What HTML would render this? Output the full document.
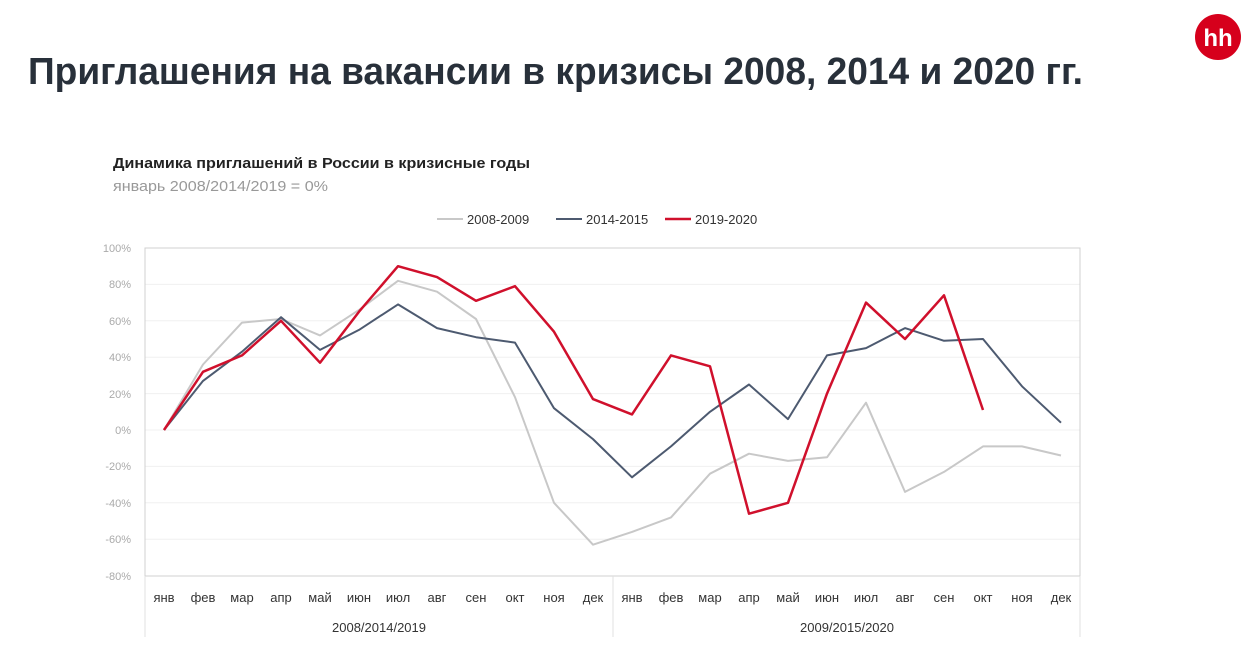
<!DOCTYPE html><html><head><meta charset="utf-8"><style>body{margin:0;background:#fff;}svg{display:block}</style></head><body>
<svg width="1245" height="663" xmlns="http://www.w3.org/2000/svg" font-family="Liberation Sans, sans-serif">
<text x="28" y="84" font-size="38" font-weight="bold" fill="#28303a" textLength="1055" lengthAdjust="spacingAndGlyphs">Приглашения на вакансии в кризисы 2008, 2014 и 2020 гг.</text>
<circle cx="1218" cy="37" r="23" fill="#d6001c"/>
<text x="1218" y="46" font-size="24" font-weight="bold" fill="#fff" text-anchor="middle">hh</text>
<text x="113" y="168" font-size="15" font-weight="bold" fill="#222" textLength="417" lengthAdjust="spacingAndGlyphs">Динамика приглашений в России в кризисные годы</text>
<text x="113" y="191" font-size="15" fill="#999" textLength="215" lengthAdjust="spacingAndGlyphs">январь 2008/2014/2019 = 0%</text>
<g font-size="13" fill="#333">
<line x1="437" y1="219" x2="463" y2="219" stroke="#c8c8c8" stroke-width="2"/><text x="467" y="224">2008-2009</text>
<line x1="556" y1="219" x2="582" y2="219" stroke="#4d5a70" stroke-width="2"/><text x="586" y="224">2014-2015</text>
<line x1="665" y1="219" x2="691" y2="219" stroke="#d0102c" stroke-width="2.5"/><text x="695" y="224">2019-2020</text>
</g>
<g stroke="#f0f0f0" stroke-width="1">
<line x1="145" y1="284.4" x2="1080" y2="284.4"/><line x1="145" y1="320.8" x2="1080" y2="320.8"/><line x1="145" y1="357.2" x2="1080" y2="357.2"/><line x1="145" y1="393.6" x2="1080" y2="393.6"/><line x1="145" y1="430" x2="1080" y2="430"/><line x1="145" y1="466.4" x2="1080" y2="466.4"/><line x1="145" y1="502.8" x2="1080" y2="502.8"/><line x1="145" y1="539.2" x2="1080" y2="539.2"/>
</g>
<rect x="145" y="248" width="935" height="328" fill="none" stroke="#d0d0d0"/>
<g stroke="#e0e0e0"><line x1="145" y1="576" x2="145" y2="637"/><line x1="613" y1="576" x2="613" y2="637"/><line x1="1080" y1="576" x2="1080" y2="637"/></g>
<g font-size="11" fill="#aaa" text-anchor="end">
<text x="131" y="252">100%</text><text x="131" y="288">80%</text><text x="131" y="325">60%</text><text x="131" y="361">40%</text><text x="131" y="398">20%</text><text x="131" y="434">0%</text><text x="131" y="470">-20%</text><text x="131" y="507">-40%</text><text x="131" y="543">-60%</text><text x="131" y="580">-80%</text>
</g>
<g font-size="13" fill="#333" text-anchor="middle">
<text x="164" y="602">янв</text><text x="203" y="602">фев</text><text x="242" y="602">мар</text><text x="281" y="602">апр</text><text x="320" y="602">май</text><text x="359" y="602">июн</text><text x="398" y="602">июл</text><text x="437" y="602">авг</text><text x="476" y="602">сен</text><text x="515" y="602">окт</text><text x="554" y="602">ноя</text><text x="593" y="602">дек</text>
<text x="632" y="602">янв</text><text x="671" y="602">фев</text><text x="710" y="602">мар</text><text x="749" y="602">апр</text><text x="788" y="602">май</text><text x="827" y="602">июн</text><text x="866" y="602">июл</text><text x="905" y="602">авг</text><text x="944" y="602">сен</text><text x="983" y="602">окт</text><text x="1022" y="602">ноя</text><text x="1061" y="602">дек</text>
<text x="379" y="632">2008/2014/2019</text><text x="847" y="632">2009/2015/2020</text>
</g>
<g fill="none" stroke-linejoin="round">
<polyline stroke="#c8c8c8" stroke-width="2" points="164,430 203,364.5 242,322.6 281,319 320,335.4 359,309.9 398,280.8 437,291.7 476,319 515,397.2 554,502.8 593,544.7 632,531.9 671,517.4 710,473.7 749,453.7 788,460.9 827,457.3 866,402.7 905,491.9 944,471.9 983,446.4 1022,446.4 1061,455.5"/>
<polyline stroke="#4d5a70" stroke-width="2" points="164,430 203,380.9 242,351.7 281,317.2 320,349.9 359,329.9 398,304.4 437,328.1 476,337.2 515,342.6 554,408.2 593,439.1 632,477.3 671,446.4 710,411.8 749,384.5 788,419.1 827,355.4 866,348.1 905,328.1 944,340.8 983,339 1022,386.3 1061,422.7"/>
<polyline stroke="#d0102c" stroke-width="2.5" points="164,430 203,371.8 242,355.4 281,320.8 320,362.7 359,311.7 398,266.2 437,277.1 476,300.8 515,286.2 554,331.7 593,399.1 632,414.4 671,355.4 710,366.3 749,513.7 788,502.8 827,393.6 866,302.6 905,339 944,295.3 983,410"/>
</g>
</svg>
</body></html>
